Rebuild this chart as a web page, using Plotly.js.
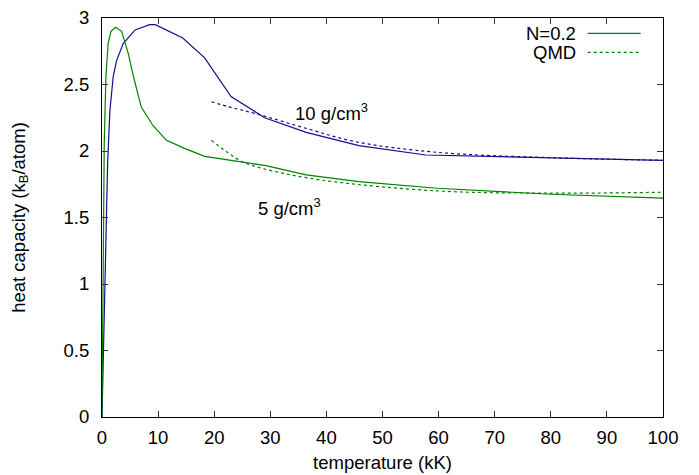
<!DOCTYPE html>
<html>
<head>
<meta charset="utf-8">
<script src="https://cdn.plot.ly/plotly-3.0.1.min.js"></script>
<style>html,body{margin:0;padding:0;background:#fff;}#chart{width:699px;height:475px;}</style>
</head>
<body>
<div id="chart"></div>
<script>
// N=0.2 model, 10 g/cm3
const tempN10 = [0, 0.4, 0.8, 1.0, 1.4, 2.0, 2.6, 3.8, 5.9, 8.5, 9.5, 14.4, 18.3, 23.0, 29.0, 36.4, 45.8, 57.7, 100];
const capN10  = [0, 0.87, 1.6, 1.9, 2.3, 2.56, 2.68, 2.81, 2.91, 2.95, 2.95, 2.85, 2.70, 2.41, 2.25, 2.14, 2.04, 1.97, 1.93];
// N=0.2 model, 5 g/cm3
const tempN5 = [0, 0.2, 0.4, 0.7, 1.1, 1.6, 2.4, 3.5, 4.7, 5.6, 7.0, 9.1, 11.5, 14.7, 18.3, 29.2, 36.4, 45.8, 59.7, 80, 100];
const capN5  = [0, 1.2, 2.06, 2.56, 2.81, 2.9, 2.93, 2.9, 2.73, 2.56, 2.33, 2.19, 2.08, 2.02, 1.96, 1.89, 1.82, 1.77, 1.72, 1.675, 1.645];
// QMD, 10 g/cm3
const tempQ10 = [19.5, 22.8, 27.5, 36.4, 45.2, 59.7, 80, 100];
const capQ10  = [2.37, 2.33, 2.28, 2.17, 2.07, 1.99, 1.95, 1.93];
// QMD, 5 g/cm3
const tempQ5 = [19.5, 24.5, 26.9, 30.4, 39.3, 59.7, 80, 100];
const capQ5  = [2.08, 1.93, 1.89, 1.85, 1.78, 1.70, 1.683, 1.69];

const legendLabels = ["N=0.2", "QMD"];
const densityLabels = ["10 g/cm<sup>3</sup>", "5 g/cm<sup>3</sup>"];

const blue = "#10108a";
const green = "#008000";
const FONT = "Liberation Sans, Arial, Helvetica, sans-serif";
const FS = 18.5;

const traces = [
  {x: tempN10, y: capN10, mode: "lines", line: {color: blue, width: 1.2}, showlegend: false},
  {x: tempN5, y: capN5, mode: "lines", line: {color: green, width: 1.2}, showlegend: false},
  {x: tempQ10, y: capQ10, mode: "lines", line: {color: blue, width: 1.2, dash: "dot", shape: "spline"}, showlegend: false},
  {x: tempQ5, y: capQ5, mode: "lines", line: {color: green, width: 1.2, dash: "dot", shape: "spline"}, showlegend: false}
];

const axisCommon = {
  showline: true, mirror: "ticks", linecolor: "#000", linewidth: 1,
  ticks: "inside", ticklen: 6, tickcolor: "#333", tickwidth: 1,
  showgrid: false, zeroline: false,
  tickfont: {family: FONT, size: FS, color: "#000"}
};

const layout = {
  width: 699, height: 475,
  margin: {l: 102, r: 36, t: 18, b: 58},
  paper_bgcolor: "#fff", plot_bgcolor: "#fff",
  font: {family: FONT, size: FS, color: "#000"},
  xaxis: Object.assign({}, axisCommon, {
    range: [0, 100], dtick: 10, tick0: 0, ticklabelstandoff: 4,
    title: {text: "temperature (kK)", font: {family: FONT, size: FS}, standoff: 8}
  }),
  yaxis: Object.assign({}, axisCommon, {
    range: [0, 3], dtick: 0.5, tick0: 0, ticklabelstandoff: 8,
    title: {text: "heat capacity (k<sub>B</sub>/atom)", font: {family: FONT, size: FS}, standoff: 33}
  }),
  annotations: [
    {x: 40.9, y: 2.29, xref: "x", yref: "y", text: densityLabels[0], showarrow: false, font: {family: FONT, size: FS}},
    {x: 33.4, y: 1.58, xref: "x", yref: "y", text: densityLabels[1], showarrow: false, font: {family: FONT, size: FS}},
    {x: 0.848, y: 0.962, xref: "paper", yref: "paper", xanchor: "right", yanchor: "middle", text: legendLabels[0], showarrow: false, font: {family: FONT, size: FS}},
    {x: 0.848, y: 0.914, xref: "paper", yref: "paper", xanchor: "right", yanchor: "middle", text: legendLabels[1], showarrow: false, font: {family: FONT, size: FS}}
  ],
  shapes: [
    {type: "line", xref: "paper", yref: "paper", x0: 0.8657, x1: 0.9602, y0: 0.9616, y1: 0.9616, line: {color: green, width: 1.2}},
    {type: "line", xref: "paper", yref: "paper", x0: 0.8657, x1: 0.9602, y0: 0.914, y1: 0.914, line: {color: green, width: 1.2, dash: "dot"}}
  ]
};

Plotly.newPlot("chart", traces, layout, {displayModeBar: false, staticPlot: true});
</script>
</body>
</html>
